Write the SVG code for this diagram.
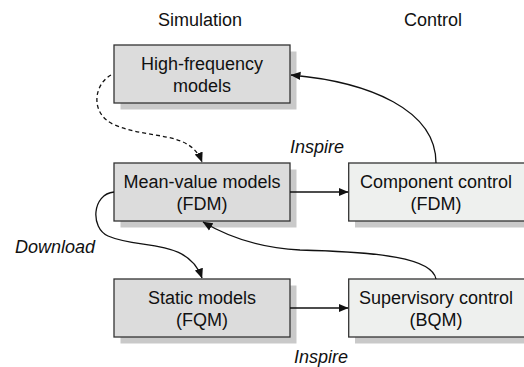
<svg xmlns="http://www.w3.org/2000/svg" width="524" height="367" viewBox="0 0 524 367">
<defs>
<style>
.t{font-family:"Liberation Sans",Arial,sans-serif;font-size:18px;fill:#111;text-anchor:middle}
.i{font-family:"Liberation Sans",Arial,sans-serif;font-size:18px;font-style:italic;fill:#111}
.sh{fill:#c9c9c9}
.sim{fill:#dcdcdc;stroke:#333;stroke-width:1.3}
.ctl{fill:#eef0ee;stroke:#333;stroke-width:1.3}
.c{fill:none;stroke:#111;stroke-width:1.3}
.d{fill:none;stroke:#111;stroke-width:1.3;stroke-dasharray:4 3}
</style>
<marker id="ah" markerWidth="10" markerHeight="10" viewBox="0 0 10 10" refX="9.5" refY="5" orient="auto" markerUnits="userSpaceOnUse">
<path d="M0,0.8 L10,5 L0,9.2 Z" fill="#111"/>
</marker>
</defs>
<rect width="524" height="367" fill="#fff"/>
<text class="t" x="200" y="26">Simulation</text>
<text class="t" x="433" y="26">Control</text>

<g id="hf">
<rect class="sh" x="120.5" y="51.5" width="176" height="58"/>
<rect class="sim" x="114" y="45" width="176" height="58"/>
<text class="t" x="202" y="70">High-frequency</text>
<text class="t" x="202" y="92">models</text>
</g>
<g id="mv">
<rect class="sh" x="120.5" y="169.5" width="176" height="58"/>
<rect class="sim" x="114" y="163" width="176" height="58"/>
<text class="t" x="202" y="188">Mean-value models</text>
<text class="t" x="202" y="210">(FDM)</text>
</g>
<g id="st">
<rect class="sh" x="120.5" y="285.5" width="176" height="58"/>
<rect class="sim" x="114" y="279" width="176" height="58"/>
<text class="t" x="202" y="304">Static models</text>
<text class="t" x="202" y="326">(FQM)</text>
</g>
<g id="cc">
<rect class="sh" x="355" y="169.5" width="176" height="58"/>
<rect class="ctl" x="348.7" y="163" width="176" height="58"/>
<text class="t" x="436" y="188">Component control</text>
<text class="t" x="436" y="210">(FDM)</text>
</g>
<g id="sc">
<rect class="sh" x="355" y="285.5" width="176" height="58"/>
<rect class="ctl" x="348.7" y="279" width="176" height="58"/>
<text class="t" x="436" y="304">Supervisory control</text>
<text class="t" x="436" y="326">(BQM)</text>
</g>

<g id="connectors">
<path class="c" d="M290,192 L348,192" marker-end="url(#ah)"/>
<path class="c" d="M290,308 L348,308" marker-end="url(#ah)"/>
<path class="c" d="M436,163 C436,110 370,82 291,75" marker-end="url(#ah)"/>
<path class="c" d="M436,279 C432,258 380,252 300,250 C260,248 230,238 203,222" marker-end="url(#ah)"/>
<path class="c" d="M114,192 C92,194 90,228 108,236 C140,250 188,238 202,278" marker-end="url(#ah)"/>
<path class="d" d="M111,75 C93,85 90,115 115,125 C150,140 190,130 202,162" marker-end="url(#ah)"/>
</g>

<text class="i" x="290" y="153">Inspire</text>
<text class="i" x="15" y="253">Download</text>
<text class="i" x="294" y="363">Inspire</text>
</svg>
